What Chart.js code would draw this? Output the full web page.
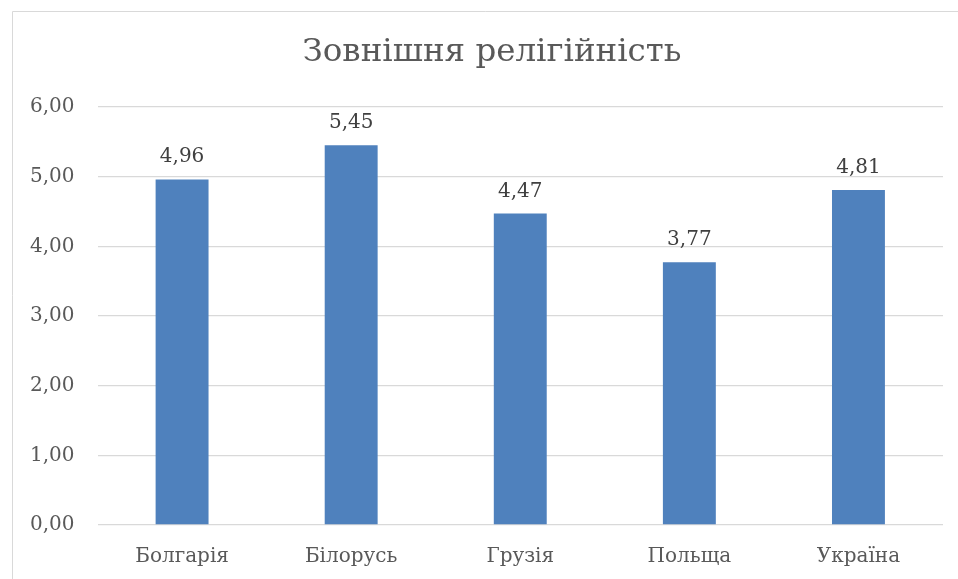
<!DOCTYPE html>
<html>
<head>
<meta charset="utf-8">
<script src="https://cdn.jsdelivr.net/npm/chart.js@4/dist/chart.umd.min.js"></script>
<style>
  html, body { margin: 0; padding: 0; background: #fff; overflow: hidden; }
  #wrap { width: 958px; height: 579px; position: relative; }
</style>
</head>
<body>
<div id="wrap"><canvas id="grafica" width="958" height="579"></canvas></div>
<script>
// ── Дані ────────────────────────────────────────────
const krainy = ['Болгарія', 'Білорусь', 'Грузія', 'Польща', 'Україна'];
const znachennia = [4.96, 5.45, 4.47, 3.77, 4.81];
const tyky = [0, 1, 2, 3, 4, 5, 6];
const nazva = 'Зовнішня релігійність';

const SHRYFT = '"DejaVu Serif", serif';
const SIRYI = '#595959';

const fmt = v => v.toFixed(2).replace('.', ',');

// рамка діаграми + заголовок (по центру всієї рамки, вона ширша за вікно)
const ramka = {
  id: 'ramka',
  beforeDraw(chart) {
    const ctx = chart.ctx;
    ctx.save();
    ctx.strokeStyle = '#d9d9d9';
    ctx.lineWidth = 1;
    ctx.beginPath();
    ctx.moveTo(12.5, 579);
    ctx.lineTo(12.5, 11.5);
    ctx.lineTo(958, 11.5);
    ctx.stroke();
    ctx.font = '32.5px ' + SHRYFT;
    ctx.fillStyle = SIRYI;
    ctx.textAlign = 'center';
    ctx.textBaseline = 'alphabetic';
    ctx.fillText(nazva, 492, 61);
    ctx.restore();
  }
};

// підписи над стовпцями
const pidpysy = {
  id: 'pidpysy',
  afterDatasetsDraw(chart) {
    const ctx = chart.ctx;
    ctx.save();
    ctx.font = '20px ' + SHRYFT;
    ctx.fillStyle = '#404040';
    ctx.textAlign = 'center';
    ctx.textBaseline = 'alphabetic';
    chart.getDatasetMeta(0).data.forEach((bar, i) => {
      ctx.fillText(fmt(znachennia[i]), bar.x, bar.y - 17);
    });
    ctx.restore();
  }
};

new Chart(document.getElementById('grafica'), {
  type: 'bar',
  data: {
    labels: krainy,
    datasets: [{
      data: znachennia,
      backgroundColor: '#4f81bd',
      barPercentage: 0.313,
      categoryPercentage: 1
    }]
  },
  options: {
    responsive: false,
    animation: false,
    layout: { padding: { left: 7, right: 15, top: 107, bottom: 0 } },
    plugins: {
      legend: { display: false },
      tooltip: { enabled: false },
      title: { display: false }
    },
    scales: {
      x: {
        grid: { display: false, drawTicks: false },
        border: { display: false },
        ticks: { color: SIRYI, font: { family: SHRYFT, size: 20 }, padding: 20, maxRotation: 0 },
        afterFit: axis => { axis.height = 54; }
      },
      y: {
        min: 0,
        max: 6,
        afterBuildTicks: axis => { axis.ticks = tyky.map(v => ({ value: v })); },
        grid: { color: '#d9d9d9', lineWidth: 1.3, drawTicks: false },
        border: { display: false },
        ticks: { color: SIRYI, font: { family: SHRYFT, size: 20 }, padding: 23, callback: v => fmt(v) }
      }
    }
  },
  plugins: [ramka, pidpysy]
});
</script>
</body>
</html>
